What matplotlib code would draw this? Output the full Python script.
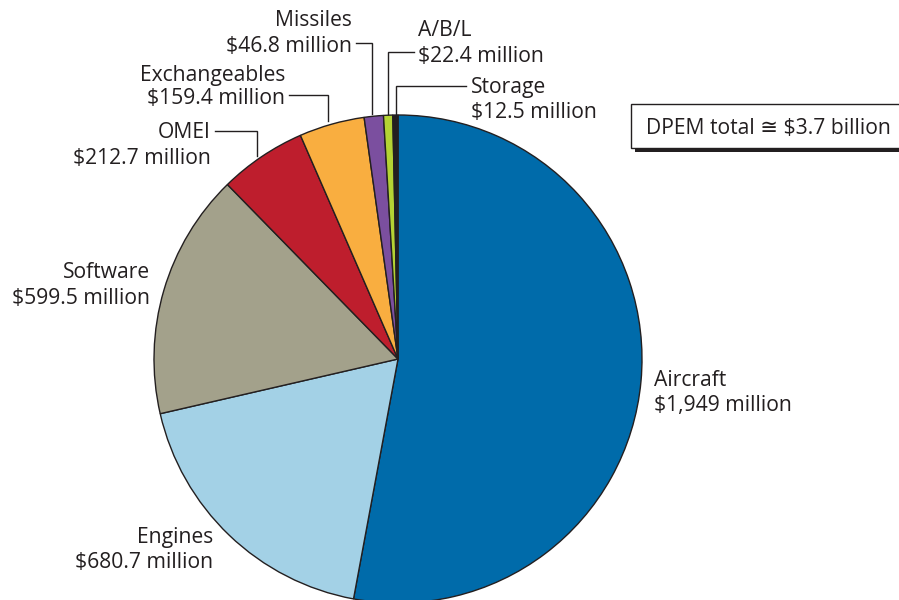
import matplotlib.pyplot as plt
from matplotlib.patches import Rectangle

# DPEM by commodity, $ millions
categories = ['Aircraft', 'Engines', 'Software', 'OMEI', 'Exchangeables',
              'Missiles', 'A/B/L', 'Storage']
values = [1949, 680.7, 599.5, 212.7, 159.4, 46.8, 22.4, 12.5]
value_labels = ['$1,949 million', '$680.7 million', '$599.5 million',
                '$212.7 million', '$159.4 million', '$46.8 million',
                '$22.4 million', '$12.5 million']
colors = ['#006BAA', '#A3D1E6', '#A3A18B', '#BE1E2D', '#F9AE40',
          '#7B4F9F', '#B4D334', '#231F20']
total_text = 'DPEM total \u2245 $3.7 billion'

plt.rcParams['font.family'] = ['Open Sans', 'DejaVu Sans']
W, H = 899, 600
fig = plt.figure(figsize=(W / 100, H / 100), dpi=100)
ax = fig.add_axes([0, 0, 1, 1])

def Y(y):
    # pixel row -> data y
    return H - y

cx, cy, r = 398, 359, 244
ax.pie(values, colors=colors, startangle=90, counterclock=False,
       center=(cx, Y(cy)), radius=r,
       wedgeprops=dict(edgecolor='#231F20', linewidth=1.0))

ax.set_xlim(0, W)
ax.set_ylim(0, H)
ax.set_aspect('auto')
ax.axis('off')

fs = 15.2
tc = '#231F20'
dy = 2  # small nudge so text baselines sit like the original
# label positions (x, first line y, second line y, alignment)
label_pos = {
    'Aircraft': (654, 378, 403, 'left'),
    'Engines': (213, 536, 561, 'right'),
    'Software': (150, 271, 297, 'right'),
    'OMEI': (211, 131, 157, 'right'),
    'Exchangeables': (285, 73, 97, 'right'),
    'Missiles': (352, 18, 44, 'right'),
    'A/B/L': (418, 28, 54, 'left'),
    'Storage': (471, 86, 111, 'left'),
}
for cat, vl in zip(categories, value_labels):
    x, y1, y2, ha = label_pos[cat]
    ax.text(x, Y(y1 + dy), cat, ha=ha, va='center', fontsize=fs, color=tc)
    ax.text(x, Y(y2 + dy), vl, ha=ha, va='center', fontsize=fs, color=tc)

# leader lines
leaders = [
    [(215, 131), (257, 131), (257, 156)],
    [(289, 95), (328, 95), (328, 121)],
    [(356, 43), (372, 43), (372, 114)],
    [(414, 52), (388, 52), (388, 114)],
    [(466, 86), (396, 86), (396, 115)],
]
for pts in leaders:
    ax.plot([p[0] for p in pts], [Y(p[1]) for p in pts], color=tc, lw=1.0,
            solid_joinstyle='miter')

# total box with drop shadow
ax.add_patch(Rectangle((635, Y(152)), 270, 44, facecolor='#231F20',
                       edgecolor='none'))
ax.add_patch(Rectangle((631, Y(148)), 270, 44, facecolor='white',
                       edgecolor='#231F20', linewidth=1.0))
ax.text(646, Y(128), total_text, ha='left', va='center', fontsize=fs, color=tc)

fig.savefig('out.png', dpi=100)
